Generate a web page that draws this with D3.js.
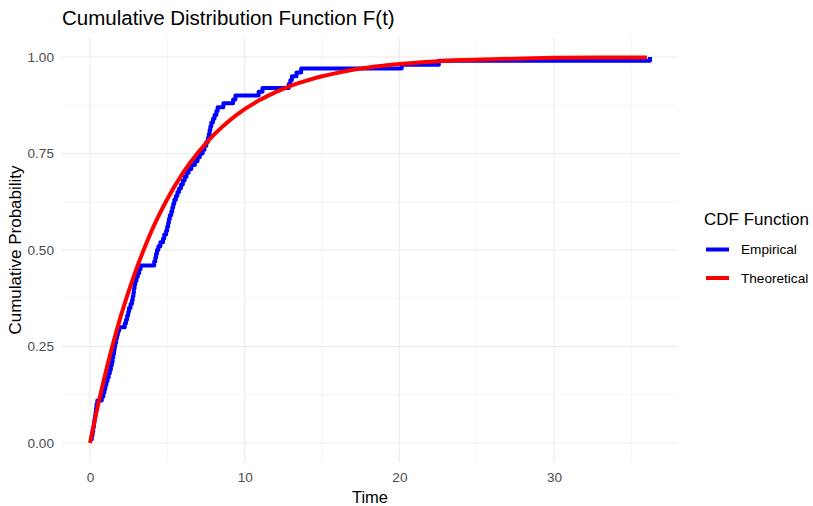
<!DOCTYPE html>
<html>
<head>
	<meta charset="utf-8">
	<title>Cumulative Distribution Function F(t)</title>
	<script src="https://d3js.org/d3.v7.min.js"></script>
	<style>
		body { margin: 0; background: #fff; }
		text { font-family: "Liberation Sans", Arial, sans-serif; }
	</style>
</head>
<body>
	<svg width="813" height="506"></svg>
	<script>
		// empirical CDF: sorted observation times, level i/100 reached at empTime[i-1]
		const empTime = [
			0.08, 0.12, 0.17, 0.21, 0.25, 0.28, 0.32, 0.36, 0.39, 0.42,
			0.47, 0.76, 0.86, 0.93, 0.99, 1.06, 1.13, 1.21, 1.28, 1.35,
			1.41, 1.46, 1.50, 1.55, 1.59, 1.63, 1.69, 1.74, 1.80, 1.88,
			2.25, 2.33, 2.40, 2.47, 2.52, 2.62, 2.71, 2.76, 2.81, 2.84,
			2.88, 2.92, 3.00, 3.09, 3.18, 3.27, 4.15, 4.22, 4.27, 4.33,
			4.42, 4.55, 4.72, 4.80, 4.92, 4.99, 5.05, 5.10, 5.16, 5.25,
			5.32, 5.38, 5.45, 5.55, 5.65, 5.76, 5.88, 6.00, 6.12, 6.24,
			6.38, 6.55, 6.78, 6.95, 7.10, 7.28, 7.40, 7.52, 7.62, 7.68,
			7.73, 7.78, 7.84, 7.95, 8.05, 8.17, 8.25, 8.62, 9.25, 9.40,
			10.90, 11.15, 12.85, 12.95, 13.05, 13.35, 13.65, 20.15, 22.55, 36.20
		];

		// theoretical CDF
		const theoTime = [0, 0.5, 1, 1.5, 2, 2.5, 3, 3.5, 4, 5, 6, 7, 8, 9, 10, 11, 12, 13, 14, 15, 16, 17, 18, 20, 22, 24, 26, 28, 30, 33, 36];
		const theoProb = [0, 0.095, 0.181, 0.259, 0.330, 0.393, 0.451, 0.503, 0.551, 0.632, 0.699, 0.753, 0.798, 0.835, 0.865, 0.889, 0.909, 0.926, 0.939, 0.950, 0.959, 0.967, 0.973, 0.982, 0.988, 0.992, 0.994, 0.996, 0.998, 0.999, 0.999];

		const xTicks = [0, 10, 20, 30];
		const xMinor = [5, 15, 25, 35];
		const yTicks = [0, 0.25, 0.5, 0.75, 1];
		const yMinor = [0.125, 0.375, 0.625, 0.875];
		const seriesNames = ["Empirical", "Theoretical"];
		const seriesColors = ["#0000ff", "#ff0000"];

		const panelLeft = 62, panelRight = 678, panelTop = 37.7, panelBottom = 462.3;

		const svg = d3.select("svg");

		const xScale = d3.scaleLinear()
			.domain([-1.81, 38.01])
			.range([panelLeft, panelRight]);

		const yScale = d3.scaleLinear()
			.domain([-0.05, 1.05])
			.range([panelBottom, panelTop]);

		// grid
		const grid = svg.append("g");
		grid.selectAll(".xminor").data(xMinor).enter().append("line")
			.attr("x1", d => xScale(d)).attr("x2", d => xScale(d))
			.attr("y1", panelTop).attr("y2", panelBottom)
			.attr("stroke", "#ebebeb").attr("stroke-width", 0.55);
		grid.selectAll(".yminor").data(yMinor).enter().append("line")
			.attr("y1", d => yScale(d)).attr("y2", d => yScale(d))
			.attr("x1", panelLeft).attr("x2", panelRight)
			.attr("stroke", "#ebebeb").attr("stroke-width", 0.55);
		grid.selectAll(".xmajor").data(xTicks).enter().append("line")
			.attr("x1", d => xScale(d)).attr("x2", d => xScale(d))
			.attr("y1", panelTop).attr("y2", panelBottom)
			.attr("stroke", "#ebebeb").attr("stroke-width", 1.1);
		grid.selectAll(".ymajor").data(yTicks).enter().append("line")
			.attr("y1", d => yScale(d)).attr("y2", d => yScale(d))
			.attr("x1", panelLeft).attr("x2", panelRight)
			.attr("stroke", "#ebebeb").attr("stroke-width", 1.1);

		// axes (labels only, like theme_minimal)
		const xAxis = svg.append("g")
			.attr("transform", `translate(0, ${panelBottom})`)
			.call(d3.axisBottom(xScale).tickValues(xTicks).tickSize(0).tickPadding(10.5).tickFormat(d3.format("d")));
		const yAxis = svg.append("g")
			.attr("transform", `translate(${panelLeft}, 0)`)
			.call(d3.axisLeft(yScale).tickValues(yTicks).tickSize(0).tickPadding(8).tickFormat(d3.format(".2f")));
		[xAxis, yAxis].forEach(a => {
			a.select(".domain").remove();
			a.selectAll("text")
				.attr("fill", "#4d4d4d")
				.style("font-size", "13.6px")
				.style("font-family", "'Liberation Sans', Arial, sans-serif");
		});

		// lines
		const empData = empTime.map((t, i) => [t, (i + 1) / empTime.length]);
		const theoData = theoTime.map((t, i) => [t, theoProb[i]]);

		const stepLine = d3.line()
			.x(d => xScale(d[0]))
			.y(d => yScale(d[1]))
			.curve(d3.curveStepAfter);

		const smoothLine = d3.line()
			.x(d => xScale(d[0]))
			.y(d => yScale(d[1]))
			.curve(d3.curveMonotoneX);

		svg.append("path")
			.datum(empData)
			.attr("d", stepLine)
			.attr("fill", "none")
			.attr("stroke", seriesColors[0])
			.attr("stroke-width", 4)
			.attr("stroke-linejoin", "round");

		svg.append("path")
			.datum(theoData)
			.attr("d", smoothLine)
			.attr("fill", "none")
			.attr("stroke", seriesColors[1])
			.attr("stroke-width", 4)
			.attr("stroke-linejoin", "round");

		// titles
		svg.append("text")
			.attr("x", 62).attr("y", 25)
			.style("font-size", "20.5px")
			.text("Cumulative Distribution Function F(t)");

		svg.append("text")
			.attr("x", (panelLeft + panelRight) / 2).attr("y", 502.5)
			.attr("text-anchor", "middle")
			.style("font-size", "16.5px")
			.text("Time");

		svg.append("text")
			.attr("transform", `translate(21, ${(panelTop + panelBottom) / 2}) rotate(-90)`)
			.attr("text-anchor", "middle")
			.style("font-size", "17px")
			.text("Cumulative Probability");

		// legend
		const legend = svg.append("g").attr("transform", "translate(704, 0)");
		legend.append("text")
			.attr("x", 0).attr("y", 225)
			.style("font-size", "17px")
			.text("CDF Function");

		const items = legend.selectAll(".item")
			.data(seriesNames)
			.enter().append("g")
			.attr("transform", (d, i) => `translate(0, ${249.5 + i * 28.5})`);
		items.append("line")
			.attr("x1", 2).attr("x2", 25)
			.attr("y1", 0).attr("y2", 0)
			.attr("stroke", (d, i) => seriesColors[i])
			.attr("stroke-width", 4);
		items.append("text")
			.attr("x", 37).attr("y", 0)
			.attr("dy", "0.35em")
			.style("font-size", "13.6px")
			.attr("fill", "#000")
			.text(d => d);
	</script>
</body>
</html>
